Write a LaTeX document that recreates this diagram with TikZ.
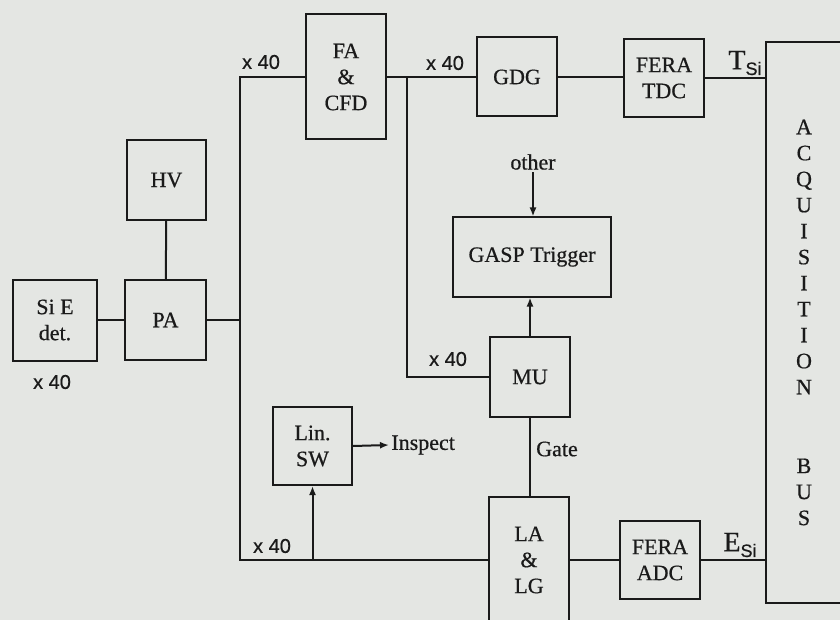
\documentclass[tikz,border=0pt]{standalone}
\usepackage{fontspec}
\setmainfont{Liberation Serif}[FakeBold=0.6]
\setsansfont{Liberation Sans}[FakeBold=0.6]
\usetikzlibrary{arrows.meta}
\definecolor{scanpaper}{HTML}{E4E6E3}
\definecolor{scanink}{HTML}{1A1A1A}

\newcommand{\sisub}[1]{#1\raisebox{-0.45ex}{\sffamily\fontsize{9}{9}\selectfont Si}}

\begin{document}
\begin{tikzpicture}[x=0.5pt,y=-0.5pt,
  blk/.style={draw=scanink,line width=1pt,inner sep=0pt,align=center,text=scanink,font=\fontsize{11}{13}\selectfont},
  wire/.style={draw=scanink,line width=1pt},
  tip/.style={wire,-{Latex[length=4.5pt,width=3.5pt]}},
  mult/.style={inner sep=1pt,text=scanink,font=\sffamily\fontsize{10}{12}\selectfont},
  lbl/.style={inner sep=1pt,text=scanink,font=\fontsize{11}{13}\selectfont}]
\useasboundingbox (0,0) rectangle (840,620);
\fill[scanpaper] (0,0) rectangle (840,620);
\node[blk,minimum width=42pt,minimum height=40.5pt] (det) at (55,320) {Si E\\det.};
\node[blk,minimum width=40.5pt,minimum height=40pt] (pa) at (165.5,320) {PA};
\node[blk,minimum width=39.5pt,minimum height=40pt] (hv) at (166.5,180) {HV};
\node[blk,minimum width=40pt,minimum height=62.5pt] (fa) at (346,77) {FA\\\&\\CFD};
\node[blk,minimum width=40pt,minimum height=39.5pt] (gdg) at (517,77) {GDG};
\node[blk,minimum width=40pt,minimum height=39pt] (tdc) at (664,78) {FERA\\TDC};
\node[blk,minimum width=79pt,minimum height=39.5pt] (gasp) at (532,257) {GASP Trigger};
\node[blk,minimum width=40pt,minimum height=40pt] (mu) at (530,377) {MU};
\node[blk,minimum width=39.5pt,minimum height=39pt] (lsw) at (312.5,446) {Lin.\\SW};
\node[blk,minimum width=40pt,minimum height=63pt] (lalg) at (529,560) {LA\\\&\\LG};
\node[blk,minimum width=40pt,minimum height=39pt] (adc) at (660,560) {FERA\\ADC};
\node[blk,minimum width=38pt,minimum height=280.5pt] (bus) at (804,322.5)
  {A\\C\\Q\\U\\I\\S\\I\\T\\I\\O\\N\\[26.4pt]B\\U\\S};
\coordinate (spl) at (240,77);
\coordinate (spb) at (240,560);
\coordinate (sfa) at (407,77);
\node[mult] (mdet) at (52,382) {x 40};
\node[mult] (mfa) at (261,62) {x 40};
\node[mult] (mgdg) at (445,63) {x 40};
\node[mult] (mmu) at (448,359) {x 40};
\node[mult] (mlsw) at (272,546) {x 40};
\node[lbl,font=\fontsize{14}{16}\selectfont] (tsi) at (745,63) {\sisub{T}};
\node[lbl,font=\fontsize{14}{16}\selectfont] (esi) at (740,545) {\sisub{E}};
\node[lbl] (other) at (533,162) {other};
\node[lbl] (gate) at (557,449) {Gate};
\node[lbl,anchor=west] (insp) at (389,445) {Inspect};
\draw[wire] (det) -- (pa);
\draw[wire] (hv) -- (pa);
\draw[wire] (pa.east) -- (pa.east -| spl);
\draw[wire] (fa.west) -- (spl) -- (spb) -- (lalg.west);
\draw[tip] (lsw.south |- spb) -- (lsw.south);
\draw[tip] (lsw.east) -- (insp.west);
\draw[wire] (fa.east) -- (gdg.west);
\draw[wire] (sfa) -- (sfa |- mu) -- (mu.west);
\draw[wire] (gdg) -- (tdc.west |- gdg);
\draw[wire] (tdc.east) -- (tdc.east -| bus.west);
\draw[tip] (other.south) -- (other.south |- gasp.north);
\draw[tip] (mu.north) -- (mu.north |- gasp.south);
\draw[wire] (mu.south) -- (mu.south |- lalg.north);
\draw[wire] (lalg) -- (adc);
\draw[wire] (adc.east) -- (adc.east -| bus.west);
\end{tikzpicture}
\end{document}
